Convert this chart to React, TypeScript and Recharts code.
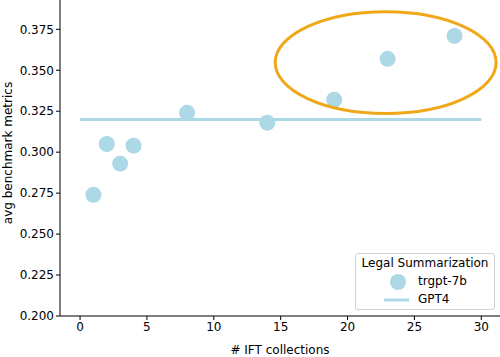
import {
  ComposedChart,
  Scatter,
  Line,
  XAxis,
  YAxis,
  ReferenceDot,
  Legend,
} from 'recharts';

const collections = [1, 2, 3, 4, 8, 14, 19, 23, 28];
const trgptScores = [0.274, 0.305, 0.293, 0.304, 0.324, 0.318, 0.332, 0.357, 0.371];
const gpt4Range = [0, 30];
const gpt4Score = 0.32;

const xTicks = [0, 5, 10, 15, 20, 25, 30];
const yTicks = [0.2, 0.225, 0.25, 0.275, 0.3, 0.325, 0.35, 0.375];

// highlight around the last three runs
const highlight = { x: 22.85, y: 0.3547, rx: 8.26, ry: 0.0311 };

const W = 500;
const H = 357;
const LEFT = 60;
const BOTTOM = 41;
const X_DOMAIN: [number, number] = [-1.5, 31.4];
const Y_DOMAIN: [number, number] = [0.2, 0.3929];

const BLUE = '#add8e6';
const FONT = '"DejaVu Sans", sans-serif';
const textStyle = { fontSize: '12px', fontFamily: FONT, fill: '#000' };

const trgptData = collections.map((x, i) => ({ x, y: trgptScores[i] }));
const gpt4Data = gpt4Range.map((x) => ({ x, y: gpt4Score }));

const pxPerX = (W - LEFT) / (X_DOMAIN[1] - X_DOMAIN[0]);
const pxPerY = (H - BOTTOM) / (Y_DOMAIN[1] - Y_DOMAIN[0]);

function LegendBox() {
  return (
    <div
      style={{
        width: 140,
        height: 57,
        boxSizing: 'border-box',
        border: '1px solid #d0d0d0',
        borderRadius: 3,
        background: 'rgba(255,255,255,0.8)',
        fontFamily: FONT,
        fontSize: 12,
        color: '#000',
        position: 'relative',
      }}
    >
      <div style={{ position: 'absolute', top: 2, left: 0, width: '100%', textAlign: 'center' }}>
        Legal Summarization
      </div>
      <svg width={140} height={57} style={{ position: 'absolute', left: 0, top: 0 }}>
        <circle cx={42} cy={28} r={8} fill={BLUE} />
        <line x1={28} x2={53} y1={46} y2={46} stroke={BLUE} strokeWidth={3} />
      </svg>
      <div style={{ position: 'absolute', top: 20, left: 62 }}>trgpt-7b</div>
      <div style={{ position: 'absolute', top: 38, left: 62 }}>GPT4</div>
    </div>
  );
}

export default function App() {
  return (
    <div style={{ position: 'absolute', left: 0, top: 0, width: W, height: H, background: '#fff' }}>
      <ComposedChart width={W} height={H} margin={{ top: 0, right: 0, bottom: 0, left: 0 }}>
        <XAxis
          type="number"
          dataKey="x"
          domain={X_DOMAIN}
          allowDataOverflow
          ticks={xTicks}
          height={BOTTOM}
          stroke="#000"
          tickSize={4}
          tick={{ style: textStyle }}
          label={{
            value: '# IFT collections',
            position: 'insideBottom',
            offset: 3,
            style: textStyle,
          }}
        />
        <YAxis
          type="number"
          dataKey="y"
          domain={Y_DOMAIN}
          allowDataOverflow
          ticks={yTicks}
          width={LEFT}
          stroke="#000"
          tickSize={4}
          tickFormatter={(v: number) => v.toFixed(3)}
          tick={{ style: textStyle }}
          label={{
            value: 'avg benchmark metrics',
            angle: -90,
            position: 'insideLeft',
            offset: 8,
            dy: -5,
            style: { ...textStyle, textAnchor: 'middle' },
          }}
        />
        <Line
          data={gpt4Data}
          dataKey="y"
          name="GPT4"
          stroke={BLUE}
          strokeWidth={3}
          dot={false}
          activeDot={false}
          isAnimationActive={false}
        />
        <Scatter
          data={trgptData}
          dataKey="y"
          name="trgpt-7b"
          fill={BLUE}
          isAnimationActive={false}
          shape={(p: any) => <circle cx={p.cx} cy={p.cy} r={8} fill={BLUE} />}
        />
        <ReferenceDot
          x={highlight.x}
          y={highlight.y}
          shape={(p: any) => (
            <ellipse
              cx={p.cx}
              cy={p.cy}
              rx={highlight.rx * pxPerX}
              ry={highlight.ry * pxPerY}
              fill="none"
              stroke="#f0a81a"
              strokeWidth={3}
            />
          )}
        />
        <Legend
          layout="horizontal"
          verticalAlign="middle"
          align="center"
          wrapperStyle={{ left: 355, top: 253, width: 140, height: 57 }}
          content={() => <LegendBox />}
        />
      </ComposedChart>
    </div>
  );
}
